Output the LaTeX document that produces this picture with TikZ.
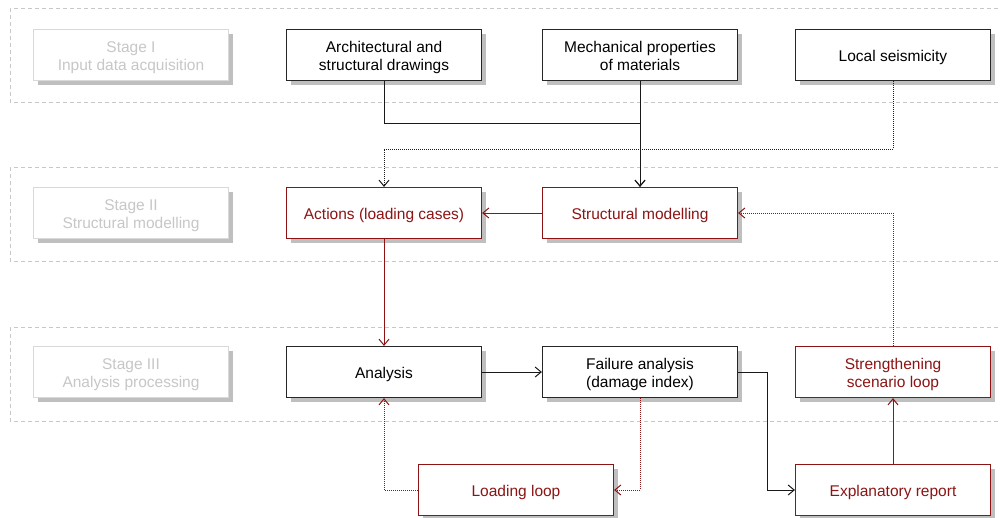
\documentclass[tikz,border=0pt]{standalone}
\usepackage{fontspec}
\setmainfont{Liberation Sans}
\usetikzlibrary{arrows.meta,shadows}
\definecolor{loopred}{RGB}{140,20,20}
\definecolor{bandgray}{RGB}{200,200,200}
% centred lines with the baseline on the last row
\newcommand\boxlines[1]{\begin{tabular}[b]{@{}c@{}}#1\end{tabular}}
\begin{document}
\begin{tikzpicture}[x=1pt,y=-1pt,
  box/.style={draw=black!85, line width=1.2pt, fill=white,
    minimum width=195pt, minimum height=51pt, inner sep=0pt,
    font=\fontsize{15.5}{18}\selectfont, text depth=0pt,
    drop shadow={shadow xshift=4pt, shadow yshift=-4pt, fill=black!25, opacity=1}},
  redbox/.style={box, draw=loopred, text=loopred},
  stagebox/.style={box, draw=black!15, text=black!22},
  band/.style={draw=bandgray, line width=0.8pt, dash pattern=on 4pt off 3pt},
  tip/.style={-{Straight Barb[length=6pt,width=10pt]}},
  link/.style={draw=black!90, line width=1pt, tip},
  dotlink/.style={link, dash pattern=on 1pt off 1pt},
  redlink/.style={link, draw=loopred},
  reddot/.style={redlink, dash pattern=on 1pt off 1pt}]
\clip (0,0) rectangle (1000,517);
\fill[white] (0,0) rectangle (1000,517);

% stage bands
\draw[band] (10,8) rectangle (1005,102);
\draw[band] (10,167) rectangle (1005,261);
\draw[band] (10,327) rectangle (1005,421);

% stage labels
\node[stagebox] (s1) at (131,55) {\boxlines{Stage I\\Input data acquisition}};
\node[stagebox] (s2) at (131,213) {\boxlines{Stage II\\Structural modelling}};
\node[stagebox] (s3) at (131,372) {\boxlines{Stage III\\Analysis processing}};

% stage I inputs
\node[box] (arch) at (384,55) {\boxlines{Architectural and\\structural drawings}};
\node[box] (mech) at (640,55) {\boxlines{Mechanical properties\\of materials}};
\node[box] (seis) at (893,55) {\boxlines{Local seismicity}};

% stage II
\node[redbox] (act) at (384,213) {\boxlines{Actions (loading cases)}};
\node[redbox] (sm) at (640,213) {\boxlines{Structural modelling}};

% stage III
\node[box] (ana) at (384,372) {\boxlines{Analysis}};
\node[box] (fail) at (640,372) {\boxlines{Failure analysis\\(damage index)}};
\node[redbox] (str) at (893,372) {\boxlines{Strengthening\\scenario loop}};

% loops and report
\node[redbox] (load) at (516,490) {\boxlines{Loading loop}};
\node[redbox] (rep) at (893,490) {\boxlines{Explanatory report}};

% connectors
\draw[link] (arch.south) -- (arch.south |- 0,123) -| (sm.north);
\draw[link] (mech.south) -- (sm.north);
\draw[dotlink] (seis.south) -- (seis.south |- 0,149) -| (act.north);
\draw[redlink] (sm.west) -- (act.east);
\draw[redlink] (act.south) -- (ana.north);
\draw[link] (ana.east) -- (fail.west);
\draw[link] (fail.east) -- (767,372) |- (rep.west);
\draw[reddot] (fail.south) |- (load.east);
\draw[reddot] (load.west) -| (ana.south);
\draw[redlink] (rep.north) -- (str.south);
\draw[reddot] (str.north) |- (sm.east);
\end{tikzpicture}
\end{document}
